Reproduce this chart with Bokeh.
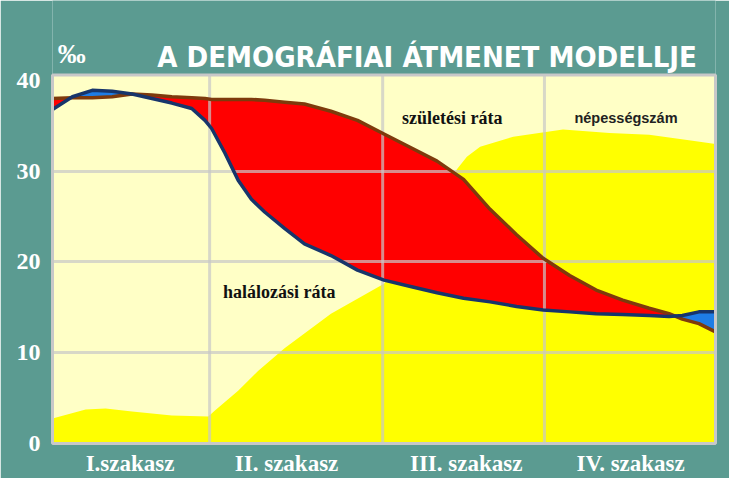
import numpy as np
from bokeh.plotting import figure
from bokeh.models import Label, FixedTicker, Range1d
from bokeh.embed import file_html
from bokeh.resources import INLINE

# ---- data (x: position along the transition, 0-100; y: per mille) ----
x_rates = [0, 3, 6, 9, 12, 15, 18, 21, 23, 24, 26, 28, 30, 32, 35, 38, 42, 46,
           50, 54, 58, 62, 66, 70, 74, 78, 82, 86, 90, 93, 95, 97.5, 100]
birth_rate = [38.0, 38.1, 38.1, 38.2, 38.5, 38.4, 38.2, 38.1, 38.0, 37.9,
              37.9, 37.9, 37.9, 37.8, 37.6, 37.4, 36.6, 35.6, 34.1, 32.6,
              31.1, 29.1, 25.8, 23.0, 20.4, 18.5, 16.9, 15.8, 14.9, 14.3,
              13.7, 13.2, 12.3]
death_rate = [36.8, 38.2, 38.9, 38.8, 38.5, 38.0, 37.5, 36.9, 35.6, 34.7,
              32.0, 29.0, 26.9, 25.5, 23.7, 22.0, 20.7, 19.1, 18.0, 17.3,
              16.6, 16.0, 15.6, 15.1, 14.7, 14.5, 14.3, 14.2, 14.1, 14.0,
              14.1, 14.5, 14.5]

x_pop = [0, 5, 8, 12, 18, 23.5, 24.5, 28, 31, 35, 42, 50, 52.6, 55.5, 58.5,
         61, 62.5, 64.5, 69.5, 77, 84, 90, 96, 100]
population = [2.75, 3.74, 3.85, 3.52, 3.08, 2.97, 3.63, 5.82, 8.0, 10.5, 14.3,
              17.6, 19.8, 23.1, 26.9, 30.2, 31.6, 32.7, 33.8, 34.6, 34.2,
              34.0, 33.4, 33.0]

stage_centers = [11.7, 35.3, 62.4, 87.2]
stage_labels = ["I.szakasz", "II. szakasz", "III. szakasz", "IV. szakasz"]
stage_bounds = [23.7, 49.8, 74.2]
y_ticks = [0, 10, 20, 30, 40]
y_grid = [10, 20, 30]

TITLE = "A DEMOGRÁFIAI ÁTMENET MODELLJE"
UNIT = "‰"

X0, X1 = 0, 100          # chart area extent
Y0, Y1 = 0, 40.6
Y_TOP = 48.8             # range includes the title strip above the chart

TEAL = "#5B9B91"
GRID = "#C8C8C8"

p = figure(width=729, height=478, output_backend="svg", toolbar_location=None,
           x_range=Range1d(X0, X1), y_range=Range1d(Y0, Y_TOP),
           min_border_left=52, min_border_right=14, min_border_top=0,
           min_border_bottom=34)
p.background_fill_color = TEAL
p.border_fill_color = TEAL
p.outline_line_color = None

# chart area background
bg = p.quad(left=[X0], right=[X1], bottom=[Y0], top=[Y1],
            fill_color="#FFFFC6", line_color=None)
bg.level = "image"

b = np.array(birth_rate)
d = np.array(death_rate)

p.varea(x=x_pop, y1=0, y2=population, fill_color="#FFFF00")
p.varea(x=x_rates, y1=d, y2=np.maximum(b, d), fill_color="#FF0000")
p.varea(x=x_rates, y1=b, y2=np.maximum(b, d), fill_color="#1E7DE6")

# grid (drawn over the fills)
p.xgrid.visible = False
p.ygrid.ticker = FixedTicker(ticks=y_grid)
p.ygrid.grid_line_color = GRID
p.ygrid.grid_line_width = 3
p.ygrid.grid_line_alpha = 0.7
p.ygrid.level = "guide"
vg = p.segment(x0=stage_bounds, x1=stage_bounds, y0=Y0, y1=Y1,
               line_color=GRID, line_width=3, line_alpha=0.7)
vg.level = "guide"

lb = p.line(x_rates, birth_rate, line_color="#7E3A0C", line_width=3.5)
ld = p.line(x_rates, death_rate, line_color="#17356B", line_width=3.5)
lb.level = "annotation"
ld.level = "annotation"

border = p.quad(left=[X0], right=[X1], bottom=[Y0], top=[Y1],
                fill_color=None, line_color=GRID, line_width=3)
border.level = "annotation"

for ax in (p.xaxis, p.yaxis):
    ax.axis_line_color = None
    ax.major_tick_line_color = None
    ax.minor_tick_line_color = None
    ax.major_label_text_color = "white"
    ax.major_label_text_font = "Liberation Serif"
    ax.major_label_text_font_style = "bold"
p.yaxis.ticker = FixedTicker(ticks=y_ticks)
p.yaxis.major_label_text_font_size = "24px"
p.yaxis.major_label_standoff = 6
p.xaxis.ticker = FixedTicker(ticks=stage_centers)
p.xaxis.major_label_overrides = {c: s for c, s in zip(stage_centers, stage_labels)}
p.xaxis.major_label_text_font_size = "23px"
p.xaxis.major_label_standoff = 1

# titles
p.add_layout(Label(x=56.5, y=42.6, text=TITLE, text_align="center",
                   text_baseline="alphabetic", text_color="white",
                   text_font="DejaVu Sans Condensed, Liberation Sans",
                   text_font_style="bold", text_font_size="29px"))
p.add_layout(Label(x=2.9, y=43.0, text=UNIT, text_align="center",
                   text_baseline="alphabetic", text_color="white",
                   text_font="Liberation Serif", text_font_style="bold",
                   text_font_size="28px"))

# curve labels
p.add_layout(Label(x=60.3, y=35.9, text="születési ráta", text_align="center",
                   text_baseline="middle", text_color="#111111",
                   text_font="Liberation Serif", text_font_style="bold",
                   text_font_size="18px"))
p.add_layout(Label(x=86.5, y=35.9, text="népességszám", text_align="center",
                   text_baseline="middle", text_color="#222222",
                   text_font="Liberation Sans", text_font_style="bold",
                   text_font_size="14.5px"))
p.add_layout(Label(x=34.2, y=16.7, text="halálozási ráta", text_align="center",
                   text_baseline="middle", text_color="#111111",
                   text_font="Liberation Serif", text_font_style="bold",
                   text_font_size="18px"))

open("out.html", "w").write(file_html(p, INLINE))
